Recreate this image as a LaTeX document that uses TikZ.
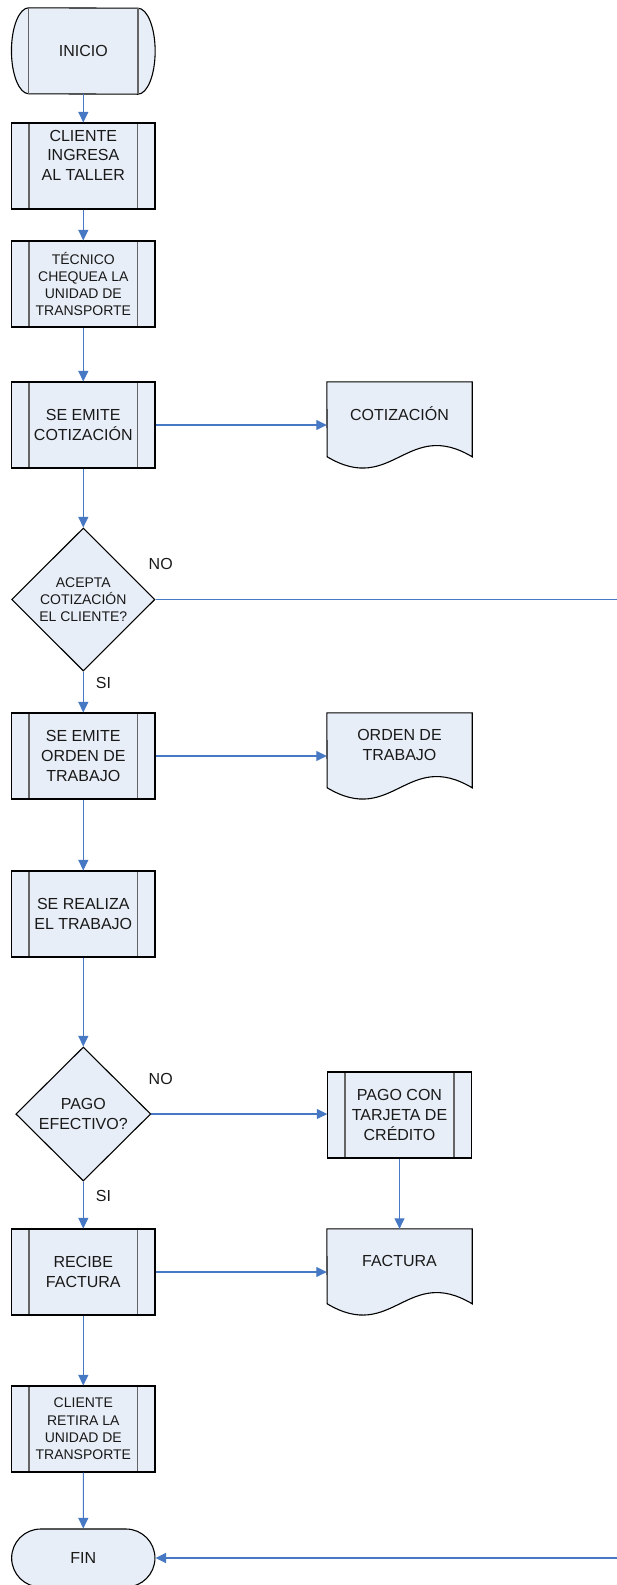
\documentclass[tikz,border=0pt]{standalone}
\usepackage{fontspec}
\setmainfont{Liberation Sans}
\usetikzlibrary{arrows.meta,shapes.geometric,shapes.misc,backgrounds}
\definecolor{boxfill}{RGB}{232,238,247}
\definecolor{flowblue}{RGB}{70,120,195}
\definecolor{innergray}{RGB}{100,100,100}
\definecolor{txt}{RGB}{25,25,25}

\begin{document}
\begin{tikzpicture}[
  x=1pt,
  y=-1pt,
  >={Triangle[length=10.5pt,width=10pt]},
  bigtxt/.style={font=\fontsize{16}{19.7}\selectfont},
  smalltxt/.style={font=\fontsize{14}{17.3}\selectfont},
  shapebase/.style={draw=black,fill=boxfill,line width=1.1pt,inner sep=0pt,align=center,text=txt,bigtxt},
  innerline/.style={draw=innergray,line width=1.4pt},
  proc/.style={shapebase,rectangle,minimum width=143.3pt,minimum height=86pt,
    path picture={\draw[innerline]
      ([xshift=17.3pt]path picture bounding box.north west) -- ([xshift=17.3pt]path picture bounding box.south west)
      ([xshift=-17.3pt]path picture bounding box.north east) -- ([xshift=-17.3pt]path picture bounding box.south east);}},
  decision/.style={shapebase,diamond,aspect=1},
  docbox/.style={rectangle,inner sep=0pt,minimum width=145pt,minimum height=64pt,align=center,text=txt,bigtxt},
  docline/.style={draw=black,fill=boxfill,line width=1.1pt},
  endbox/.style={shapebase,rounded rectangle,minimum width=143.3pt,minimum height=58pt},
  flow/.style={->,draw=flowblue,line width=1.1pt},
  lbl/.style={bigtxt,text=txt}
]
  \useasboundingbox (0,0) rectangle (616,1585);

  % main column
  \node[rectangle,inner sep=0pt,minimum width=108.7pt,minimum height=86pt,text=txt,bigtxt] (ini) at (83.3,51) {INICIO};
  \node[proc] (cli) at (83.3,166) {CLIENTE\\INGRESA\\AL TALLER\\[2pt]~};
  \node[proc,smalltxt] (tec) at (83.3,284) {TÉCNICO\\CHEQUEA LA\\UNIDAD DE\\TRANSPORTE};
  \node[proc] (cot) at (83.3,425) {SE EMITE\\COTIZACIÓN};
  \node[decision,smalltxt,minimum width=143.3pt,minimum height=143pt] (acep) at (83.3,599.5)
    {ACEPTA\\COTIZACIÓN\\EL CLIENTE?};
  \node[proc] (ord) at (83.3,756) {SE EMITE\\ORDEN DE\\TRABAJO};
  \node[proc] (rea) at (83.3,914) {SE REALIZA\\EL TRABAJO};
  \node[decision,minimum width=135pt,minimum height=134pt] (pago) at (83.3,1114) {PAGO\\EFECTIVO?};
  \node[proc] (rec) at (83.3,1272) {RECIBE\\FACTURA};
  \node[proc,smalltxt] (ret) at (83.3,1429) {CLIENTE\\RETIRA LA\\UNIDAD DE\\TRANSPORTE};
  \node[endbox] (fin) at (83.3,1558) {FIN};

  % right column
  \node[docbox] (dcot) at (399.5,414) {COTIZACIÓN};
  \node[docbox] (dord) at (399.5,745) {ORDEN DE\\TRABAJO};
  \node[proc] (tar) at (399.5,1115) {PAGO CON\\TARJETA DE\\CRÉDITO};
  \node[docbox] (dfac) at (399.5,1261) {FACTURA};

  \begin{scope}[on background layer]
    \filldraw[docline] (ini.north west)
      arc[start angle=90,end angle=270,x radius=17.3pt,y radius=43pt] -- (ini.south east)
      arc[start angle=-90,end angle=90,x radius=17.3pt,y radius=43pt] -- cycle;
    \draw[innerline] (ini.north west) -- (ini.south west) (ini.north east) -- (ini.south east);
    \foreach \d in {dcot,dord,dfac}
      \filldraw[docline] (\d.north west) -- (\d.north east) -- ++(0,75)
        .. controls +(-65.25,-39) and +(65.25,39) .. ++(-145,0) -- cycle;
  \end{scope}

  \node[lbl] (no1) at (160.7,564) {NO};
  \node[lbl] (si1) at (103.5,683) {SI};
  \node[lbl] (no2) at (160.7,1079) {NO};
  \node[lbl] (si2) at (103.5,1196) {SI};

  \coordinate (offpg) at (628,1558);

  \draw[flow] (ini) -- (cli);
  \draw[flow] (cli) -- (tec);
  \draw[flow] (tec) -- (cot);
  \draw[flow] (cot) -- (acep);
  \draw[flow] (acep) -- (ord);
  \draw[flow] (ord) -- (rea);
  \draw[flow] (rea) -- (pago);
  \draw[flow] (pago) -- (rec);
  \draw[flow] (rec) -- (ret);
  \draw[flow] (ret) -- (fin);
  \draw[flow] (cot.east) -- (cot.east -| dcot.west);
  \draw[flow] (ord.east) -- (ord.east -| dord.west);
  \draw[flow] (rec.east) -- (rec.east -| dfac.west);
  \draw[flow] (pago.east) -- (pago.east -| tar.west);
  \draw[flow] (tar) -- (dfac);
  \draw[flow] (acep.east) -- (acep.east -| offpg) |- (fin.east);
\end{tikzpicture}
\end{document}
